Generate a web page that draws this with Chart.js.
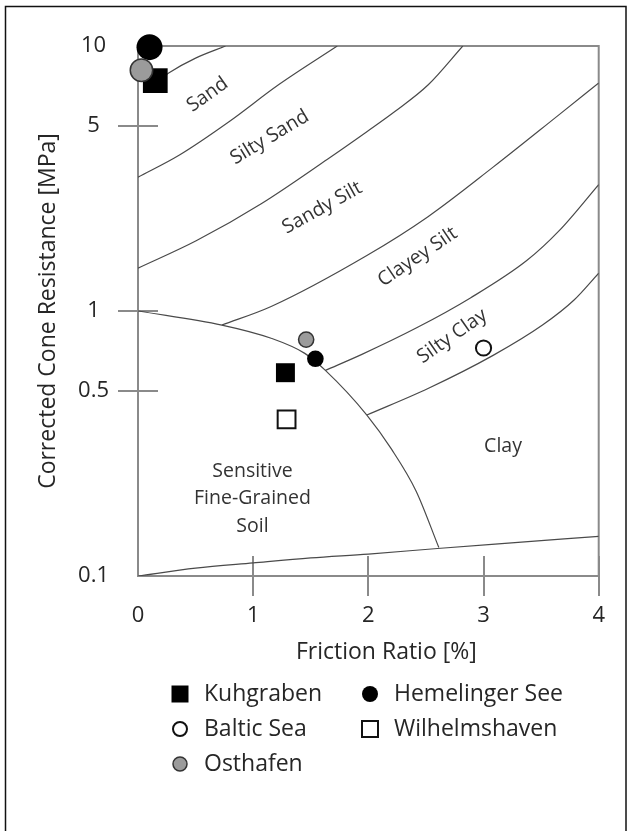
<!DOCTYPE html>
<html>
<head>
<meta charset="utf-8">
<script src="https://cdn.jsdelivr.net/npm/chart.js@4.4.1/dist/chart.umd.min.js"></script>
<style>
  html, body { margin: 0; padding: 0; background: #fff; }
  #wrap { position: relative; width: 632px; height: 831px; }
  canvas { display: block; }
</style>
</head>
<body>
<div id="wrap"><canvas id="c" width="632" height="831"></canvas></div>
<script>
// Soil behaviour type chart: corrected cone resistance vs. friction ratio

// Axis ticks and titles
const xTicks = [0, 1, 2, 3, 4];
const yTicks = [0.1, 0.5, 1, 5, 10];
const xTitle = 'Friction Ratio [%]';
const yTitle = 'Corrected Cone Resistance [MPa]';

// Test sites: [friction ratio (%), corrected cone resistance (MPa)]
const kuhgraben     = [[0.15, 7.4], [1.28, 0.585]];
const hemelingerSee = [[0.10, 9.9], [1.54, 0.66]];
const balticSea     = [[3.00, 0.725]];
const wilhelmshaven = [[1.29, 0.39]];
const osthafen      = [[0.03, 8.1], [1.46, 0.78]];

// Zone boundaries
const sandTop       = [[0.23, 7.7], [0.27, 7.93], [0.50, 9.0], [0.76, 10]];
const sandSiltySand = [[0, 3.2], [0.36, 3.88], [0.79, 5.18], [1.22, 7.14], [1.73, 10]];
const siltySandSilt = [[0, 1.45], [0.505, 1.84], [1.07, 2.54], [1.645, 3.74], [1.99, 4.76], [2.23, 5.66], [2.52, 7.14], [2.82, 10]];
const sandyClayeySilt = [[0.728, 0.885], [1.156, 1.04], [1.987, 1.62], [2.518, 2.27], [3.083, 3.49], [3.657, 5.51], [4.0, 7.25]];
const clayeySiltSiltyClay = [[1.627, 0.597], [1.944, 0.686], [2.415, 0.862], [2.886, 1.12], [3.375, 1.55], [3.657, 2.01], [4.0, 3.0]];
const siltyClayClay = [[1.987, 0.405], [2.518, 0.51], [3.083, 0.68], [3.512, 0.885], [3.786, 1.10], [4.0, 1.39]];
const sensitiveEdge = [[0, 1.0], [0.728, 0.885], [1.156, 0.789], [1.448, 0.692], [1.627, 0.597], [1.987, 0.405], [2.201, 0.301], [2.415, 0.209], [2.612, 0.128]];
const lowerEdge     = [[0, 0.1], [0.5, 0.107], [1.0, 0.112], [1.5, 0.117], [2.0, 0.121], [2.6, 0.127], [3.1, 0.132], [4.0, 0.141]];

// Zone names and where they sit (data coordinates) with their slant in degrees
const zoneNames = ['Sand', 'Silty Sand', 'Sandy Silt', 'Clayey Silt', 'Silty Clay', 'Clay', ['Sensitive', 'Fine-Grained', 'Soil']];
const zoneX     = [0.604, 1.143, 1.60, 2.428, 2.728, 3.169, 0.994];
const zoneY     = [6.55, 4.52, 2.45, 1.60, 0.803, 0.309, 0.196];
const zoneTilt  = [-35, -31, -29, -34, -35, 0, 0];

const FONT = '"Open Sans", "Noto Sans", sans-serif';
const INK = '#262626';
const AXIS = '#8a8a8a';
const CURVE = '#4a4a4a';

const toXY = pts => pts.map(([x, y]) => ({ x, y }));

function boundary(label, pts) {
  return {
    label, data: toXY(pts), showLine: true,
    borderColor: CURVE, borderWidth: 1.2, pointRadius: 0,
    fill: false, cubicInterpolationMode: 'monotone', order: 10
  };
}

function site(label, pts, style, radius, fill, stroke, bw, order) {
  return {
    label, data: toXY(pts), showLine: false, clip: false,
    pointStyle: style, pointRadius: radius, pointBackgroundColor: fill,
    pointBorderColor: stroke, pointBorderWidth: bw, order,
    borderColor: stroke, backgroundColor: fill
  };
}

const siteSets = [
  site('Kuhgraben', kuhgraben, 'rect', [17.5, 13.4], '#000', '#000', 0, 2),
  site('Hemelinger See', hemelingerSee, 'circle', [13, 8.3], '#000', '#000', 0, 1),
  site('Baltic Sea', balticSea, 'circle', [7.6], '#fff', '#111', 2, 3),
  site('Wilhelmshaven', wilhelmshaven, 'rect', [12.6], '#fff', '#111', 2, 4),
  site('Osthafen', osthafen, 'circle', [11.2, 7.6], '#9b9b9b', '#333', 1.5, 0)
];

const curveSets = [
  boundary('sandTop', sandTop),
  boundary('sandSiltySand', sandSiltySand),
  boundary('siltySandSilt', siltySandSilt),
  boundary('sandyClayeySilt', sandyClayeySilt),
  boundary('clayeySiltSiltyClay', clayeySiltSiltyClay),
  boundary('siltyClayClay', siltyClayClay),
  boundary('sensitiveEdge', sensitiveEdge),
  boundary('lowerEdge', lowerEdge)
];

// White page with the outer black frame
const pageFrame = {
  id: 'pageFrame',
  beforeDraw(chart) {
    const ctx = chart.ctx;
    ctx.save();
    ctx.fillStyle = '#fff';
    ctx.fillRect(0, 0, chart.width, chart.height);
    ctx.strokeStyle = '#111';
    ctx.lineWidth = 1.5;
    ctx.strokeRect(5.5, 6.5, 620.5, 900);
    ctx.restore();
  }
};

// Plot box, crossing tick marks and zone names
const plotDecor = {
  id: 'plotDecor',
  beforeDatasetsDraw(chart) {
    const { ctx, chartArea: a, scales: { x, y } } = chart;
    ctx.save();
    ctx.strokeStyle = AXIS;
    ctx.lineWidth = 2;
    ctx.strokeRect(a.left, a.top, a.right - a.left, a.bottom - a.top);
    ctx.beginPath();
    yTicks.filter(v => v > 0.1 && v < 10).forEach(v => {
      const py = Math.round(y.getPixelForValue(v));
      ctx.moveTo(a.left - 20, py);
      ctx.lineTo(a.left + 20, py);
    });
    xTicks.filter(v => v > 0).forEach(v => {
      const px = Math.round(x.getPixelForValue(v));
      ctx.moveTo(px, a.bottom - 20);
      ctx.lineTo(px, a.bottom + 20);
    });
    ctx.stroke();

    ctx.fillStyle = '#333';
    ctx.font = '19.5px ' + FONT;
    ctx.textAlign = 'center';
    ctx.textBaseline = 'middle';
    zoneNames.forEach((name, i) => {
      const px = x.getPixelForValue(zoneX[i]);
      const py = y.getPixelForValue(zoneY[i]);
      const lines = Array.isArray(name) ? name : [name];
      ctx.save();
      ctx.translate(px, py);
      ctx.rotate(zoneTilt[i] * Math.PI / 180);
      lines.forEach((t, k) => {
        ctx.fillText(t, 0, (k - (lines.length - 1) / 2) * 27.5);
      });
      ctx.restore();
    });
    ctx.restore();
  }
};

// X-axis title and the two-column legend beneath it
const siteLegend = {
  id: 'siteLegend',
  afterDraw(chart) {
    const { ctx, chartArea: a } = chart;
    ctx.save();
    ctx.font = '23px ' + FONT;
    ctx.fillStyle = INK;
    ctx.textAlign = 'center';
    ctx.textBaseline = 'middle';
    ctx.fillText(xTitle, (a.left + a.right) / 2 + 18, a.bottom + 76);

    const layout = [
      ['Kuhgraben', 0, 0], ['Hemelinger See', 1, 0],
      ['Baltic Sea', 0, 1], ['Wilhelmshaven', 1, 1],
      ['Osthafen', 0, 2]
    ];
    const colX = [a.left + 42, a.left + 232];
    const rowY = [a.bottom + 118, a.bottom + 153, a.bottom + 188];
    ctx.textAlign = 'left';
    layout.forEach(([name, c, r]) => {
      const ds = chart.data.datasets.find(d => d.label === name);
      const mx = colX[c], my = rowY[r];
      ctx.fillStyle = ds.pointBackgroundColor;
      ctx.strokeStyle = ds.pointBorderColor;
      ctx.lineWidth = ds.pointBorderWidth;
      ctx.beginPath();
      if (ds.pointStyle === 'rect') {
        const h = ds.pointBorderWidth ? 8 : 8.5;
        ctx.rect(mx - h, my - h, 2 * h, 2 * h);
      } else {
        ctx.arc(mx, my, ds.pointBorderWidth ? 7 : 8, 0, Math.PI * 2);
      }
      ctx.fill();
      if (ds.pointBorderWidth > 0) ctx.stroke();
      ctx.fillStyle = INK;
      ctx.fillText(name, mx + 24, my);
    });
    ctx.restore();
  }
};

new Chart(document.getElementById('c'), {
  type: 'line',
  data: { datasets: [...siteSets, ...curveSets] },
  options: {
    responsive: false,
    devicePixelRatio: 1,
    animation: false,
    events: [],
    layout: { padding: { left: 0, right: 27, top: 46, bottom: 155 } },
    plugins: { legend: { display: false }, tooltip: { enabled: false } },
    scales: {
      x: {
        type: 'linear', min: 0, max: 4,
        afterBuildTicks: s => { s.ticks = xTicks.map(v => ({ value: v })); },
        afterFit: s => { s.height = 100; },
        grid: { display: false, drawTicks: false },
        border: { display: false },
        ticks: {
          color: INK, font: { family: FONT, size: 22 }, padding: 27,
          autoSkip: false, maxRotation: 0, callback: v => String(v)
        },
        title: { display: false }
      },
      y: {
        type: 'logarithmic', min: 0.1, max: 10,
        afterBuildTicks: s => { s.ticks = yTicks.map(v => ({ value: v })); },
        afterFit: s => { s.width = 138; },
        grid: { display: false, drawTicks: false },
        border: { display: false },
        ticks: {
          color: INK, font: { family: FONT, size: 22 }, padding: 29,
          crossAlign: 'center', autoSkip: false, callback: v => String(v)
        },
        title: {
          display: true, text: yTitle, color: INK,
          font: { family: FONT, size: 23 }, padding: { top: 35, bottom: 0 }
        }
      }
    }
  },
  plugins: [pageFrame, plotDecor, siteLegend]
});
</script>
</body>
</html>
